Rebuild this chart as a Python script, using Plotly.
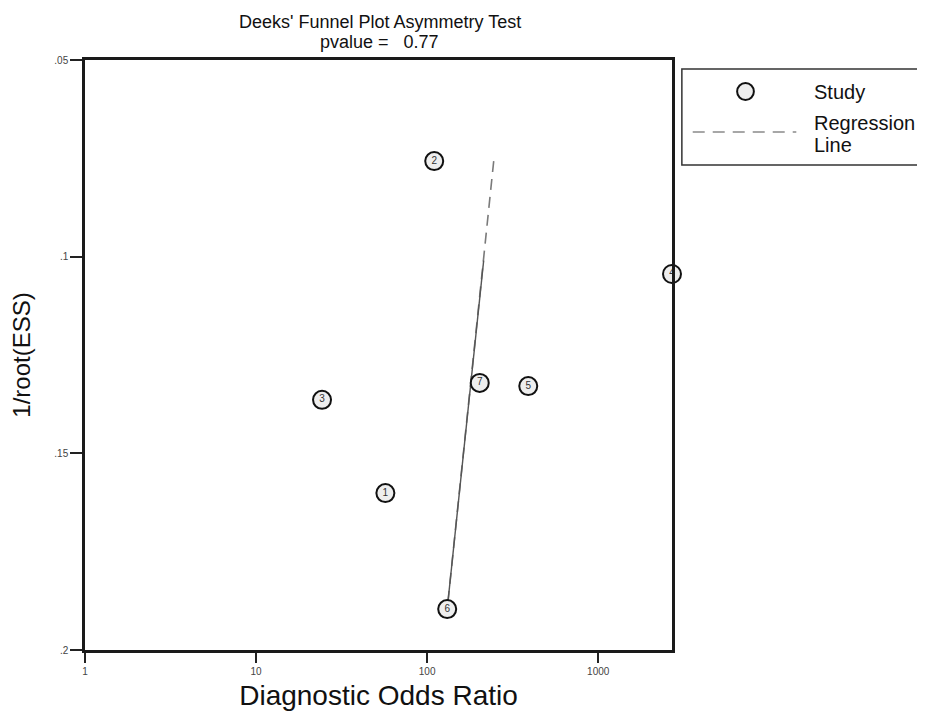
import math
import plotly.graph_objects as go

# ---- data ----
study_ids = ["1", "2", "3", "4", "5", "6", "7"]
study_dor = [57, 110, 24.3, 2700, 390, 131, 203]
study_inv_root_ess = [0.1601, 0.0757, 0.1364, 0.1044, 0.1329, 0.1896, 0.1321]

reg_dor = [245, 131]
reg_inv_root_ess = [0.0757, 0.1896]

solid_dor = [214, 131]
solid_inv_root_ess = [0.101, 0.1896]

x_tickvals = [1, 10, 100, 1000]
x_ticktext = ["1", "10", "100", "1000"]
y_tickvals = [0.05, 0.1, 0.15, 0.2]
y_ticktext = [".05", ".1", ".15", ".2"]

FONT = "Liberation Sans, Arial, sans-serif"

# page body margin offset
OFF = 8

fig = go.Figure()

fig.add_trace(go.Scatter(
    x=reg_dor, y=reg_inv_root_ess, mode="lines",
    line=dict(color="#7a7a7a", width=1.6, dash="11px,7px"),
    showlegend=False, hoverinfo="skip"))
fig.add_trace(go.Scatter(
    x=solid_dor, y=solid_inv_root_ess, mode="lines",
    line=dict(color="#555555", width=1.4),
    showlegend=False, hoverinfo="skip"))

fig.add_trace(go.Scatter(
    x=study_dor, y=study_inv_root_ess, mode="markers+text",
    text=study_ids, textposition="middle center",
    textfont=dict(size=10, color="#333333", family=FONT),
    marker=dict(size=18, color="#eeeeee", line=dict(color="#111111", width=2)),
    cliponaxis=False, showlegend=False))

fig.update_xaxes(
    type="log", range=[0, math.log10(2700)],
    tickvals=x_tickvals, ticktext=x_ticktext,
    ticks="outside", ticklen=10, tickwidth=1.5, tickcolor="#222222",
    tickfont=dict(size=10, color="#444444", family=FONT),
    showline=True, linewidth=2.5, linecolor="#1a1a1a", mirror=True,
    showgrid=False, zeroline=False,
    title=dict(text="Diagnostic Odds Ratio", font=dict(size=28, color="#111111", family=FONT), standoff=10))
fig.update_yaxes(
    range=[0.2, 0.05],
    tickvals=y_tickvals, ticktext=y_ticktext,
    ticks="outside", ticklen=12, tickwidth=1.5, tickcolor="#222222",
    tickfont=dict(size=10, color="#444444", family=FONT),
    showline=True, linewidth=2.5, linecolor="#1a1a1a", mirror=True,
    showgrid=False, zeroline=False,
    title=dict(text="1/root(ESS)", font=dict(size=24, color="#111111", family=FONT), standoff=18))

W, H = 925, 711
# reference-pixel plot area: x 80..672, y 60..650
L, T = 77 - OFF, 60 - OFF
R = W - (672 - OFF)
B = H - (650 - OFF)
pw, ph = W - L - R, H - T - B

def px(x):
    return (x - OFF - L) / pw

def py(y):
    return (H - B - (y - OFF)) / ph

shapes = [
    dict(type="rect", xref="paper", yref="paper",
         x0=px(682), x1=px(945), y0=py(165), y1=py(69),
         line=dict(color="#333333", width=1.5), fillcolor="white"),
    dict(type="circle", xref="paper", yref="paper",
         x0=px(738), x1=px(755), y0=py(100), y1=py(83),
         line=dict(color="#111111", width=2), fillcolor="#eeeeee"),
    dict(type="line", xref="paper", yref="paper",
         x0=px(693), x1=px(798), y0=py(132), y1=py(132),
         line=dict(color="#8a8a8a", width=1.6, dash="12px,8px")),
]

def ann(text, x, y, size, anchor="left"):
    return dict(text=text, xref="paper", yref="paper", x=px(x), y=py(y),
                xanchor=anchor, yanchor="middle", showarrow=False,
                font=dict(size=size, color="#111111", family=FONT))

annotations = [
    ann("Deeks' Funnel Plot Asymmetry Test", 376, 22, 18, "center"),
    ann("pvalue =   0.77", 376, 42, 18, "center"),
    ann("Study", 814, 92, 20),
    ann("Regression", 814, 123, 20),
    ann("Line", 814, 145, 20),
]

fig.update_layout(
    width=W, height=H,
    margin=dict(l=L, r=R, t=T, b=B),
    paper_bgcolor="white", plot_bgcolor="white",
    shapes=shapes, annotations=annotations,
    showlegend=False,
    font=dict(family=FONT),
)

fig.write_html("out.html")
